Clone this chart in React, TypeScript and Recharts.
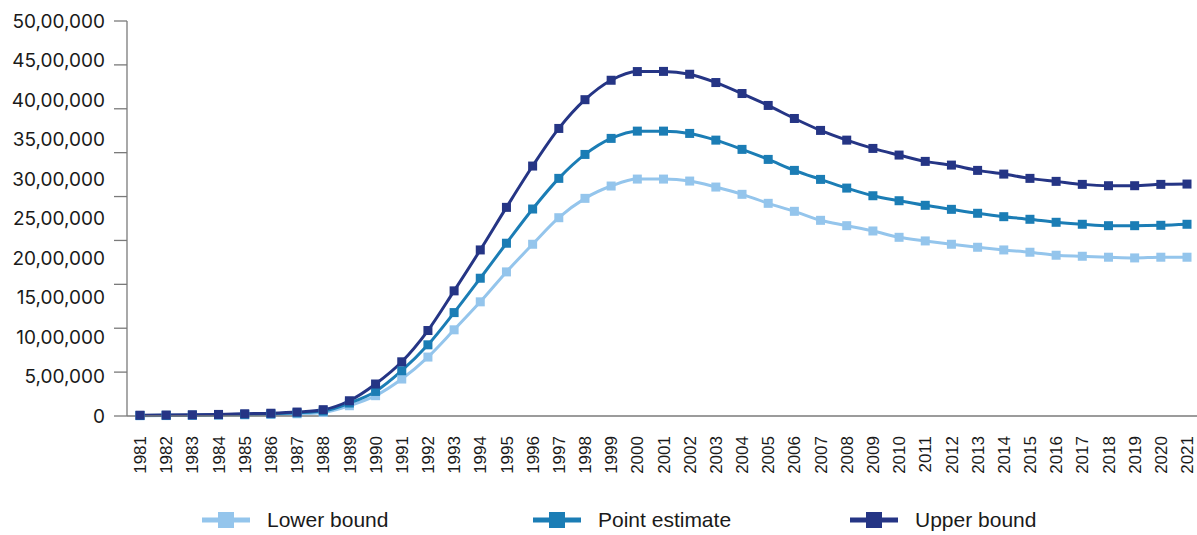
import { LineChart, Line, XAxis, YAxis, Legend } from 'recharts'

const years = [
  '1981', '1982', '1983', '1984', '1985', '1986', '1987', '1988', '1989', '1990',
  '1991', '1992', '1993', '1994', '1995', '1996', '1997', '1998', '1999', '2000',
  '2001', '2002', '2003', '2004', '2005', '2006', '2007', '2008', '2009', '2010',
  '2011', '2012', '2013', '2014', '2015', '2016', '2017', '2018', '2019', '2020', '2021',
]

const lowerBound = [
  4000, 5000, 7000, 10000, 14000, 20000, 28000, 45000, 130000, 257000,
  468000, 746000, 1091000, 1445000, 1824000, 2174000, 2510000, 2755000, 2911000, 2999000,
  2999000, 2974000, 2898000, 2806000, 2692000, 2591000, 2477000, 2409000, 2342000, 2262000,
  2216000, 2174000, 2136000, 2102000, 2073000, 2035000, 2022000, 2010000, 2001000, 2010000, 2010000,
]

const pointEstimate = [
  6000, 8000, 11000, 15000, 21000, 28000, 40000, 62000, 164000, 311000,
  573000, 901000, 1309000, 1744000, 2187000, 2620000, 3008000, 3311000, 3514000, 3606000,
  3606000, 3577000, 3492000, 3375000, 3248000, 3109000, 2995000, 2885000, 2788000, 2725000,
  2667000, 2616000, 2566000, 2523000, 2490000, 2452000, 2427000, 2409000, 2409000, 2414000, 2427000,
]

const upperBound = [
  10000, 12000, 15000, 20000, 28000, 35000, 50000, 80000, 193000, 405000,
  686000, 1082000, 1584000, 2102000, 2641000, 3164000, 3640000, 4004000, 4250000, 4360000,
  4362000, 4326000, 4221000, 4082000, 3931000, 3766000, 3615000, 3492000, 3387000, 3303000,
  3223000, 3176000, 3109000, 3062000, 3008000, 2970000, 2932000, 2915000, 2915000, 2932000, 2936000,
]

const yTicks = [0, 500000, 1000000, 1500000, 2000000, 2500000, 3000000, 3500000, 4000000, 4500000, 5000000]
// the original's tick marks don't line up with its labels: 9 even steps
const markTicks = [0, 1, 2, 3, 4, 5, 6, 7, 8, 9]

const seriesKeys = ['lower', 'point', 'upper']
const seriesNames = ['Lower bound', 'Point estimate', 'Upper bound']
const seriesColors = ['#94c5ec', '#1b7db5', '#253585']

const data = years.map((year, i) => ({
  year,
  lower: lowerBound[i],
  point: pointEstimate[i],
  upper: upperBound[i],
}))

// Indian digit grouping: 50,00,000
function lakh(v: number) {
  const s = String(v)
  if (s.length <= 3) return s
  const rest = s.slice(0, -3).replace(/\B(?=(\d{2})+(?!\d))/g, ',')
  return rest + ',' + s.slice(-3)
}

function SquareDot(props: any) {
  const { cx, cy, color } = props
  if (cx == null || cy == null) return null
  return <rect x={cx - 4.5} y={cy - 4.5} width={9} height={9} fill={color} />
}

function YearTick(props: any) {
  const { x, y, payload } = props
  return (
    <text
      x={x}
      y={y}
      dy="0.36em"
      textAnchor="end"
      transform={`rotate(-90, ${x}, ${y})`}
      fontSize={17}
      fontFamily='"Liberation Sans", Arial, sans-serif'
      fill="#1a1a1a"
    >
      {payload.value}
    </text>
  )
}

const legendLeft = [202, 533, 850]

function LegendContent() {
  return (
    <div style={{ position: 'relative', height: 38 }}>
      {seriesNames.map((name, i) => (
        <div
          key={name}
          style={{ position: 'absolute', left: legendLeft[i], top: 11, height: 24, display: 'flex', alignItems: 'center' }}
        >
          <svg width={48} height={16} style={{ display: 'block' }}>
            <line x1={0} y1={8} x2={48} y2={8} stroke={seriesColors[i]} strokeWidth={5} />
            <rect x={16} y={0} width={16} height={16} fill={seriesColors[i]} />
          </svg>
          <span
            style={{
              marginLeft: 17,
              fontSize: 21,
              lineHeight: '24px',
              fontFamily: '"Liberation Sans", Arial, sans-serif',
              color: '#1a1a1a',
              whiteSpace: 'nowrap',
            }}
          >
            {name}
          </span>
        </div>
      ))}
    </div>
  )
}

export default function App() {
  return (
    <div style={{ position: 'absolute', left: 0, top: 0, width: 1197, height: 535, overflow: 'hidden', background: '#fff' }}>
      <LineChart width={1200} height={535} data={data} margin={{ top: 21, right: 0, bottom: 0, left: 0 }}>
        <XAxis
          dataKey="year"
          interval={0}
          height={81}
          padding={{ left: 13, right: 13 }}
          tickLine={false}
          tickSize={0}
          tickMargin={20}
          tick={<YearTick />}
          stroke="#7a7a7a"
          strokeWidth={1.5}
        />
        <YAxis
          yAxisId="val"
          width={127}
          domain={[0, 5000000]}
          ticks={yTicks}
          interval={0}
          tickFormatter={lakh}
          axisLine={false}
          tickLine={false}
          tickSize={14}
          tickMargin={8}
          tick={{ fontSize: 19, fill: '#1a1a1a', fontFamily: 'Inter, "Liberation Sans", sans-serif' }}
        />
        {/* mirrored so it sits on the plot edge; negative size pushes the marks outward */}
        <YAxis
          yAxisId="marks"
          mirror
          width={13}
          type="number"
          domain={[0, 9]}
          allowDataOverflow
          ticks={markTicks}
          interval={0}
          tickFormatter={() => ''}
          tickSize={-13}
          stroke="#7a7a7a"
          strokeWidth={1.3}
        />
        <Legend verticalAlign="bottom" content={<LegendContent />} wrapperStyle={{ left: 0, bottom: 0 }} />
        <Line
          yAxisId="marks"
          dataKey="upper"
          stroke="none"
          dot={false}
          activeDot={false}
          legendType="none"
          isAnimationActive={false}
        />
        {seriesKeys.map((key, i) => (
          <Line
            key={key}
            yAxisId="val"
            type="monotone"
            dataKey={key}
            name={seriesNames[i]}
            stroke={seriesColors[i]}
            strokeWidth={3}
            dot={<SquareDot color={seriesColors[i]} />}
            activeDot={false}
            isAnimationActive={false}
          />
        ))}
      </LineChart>
    </div>
  )
}
